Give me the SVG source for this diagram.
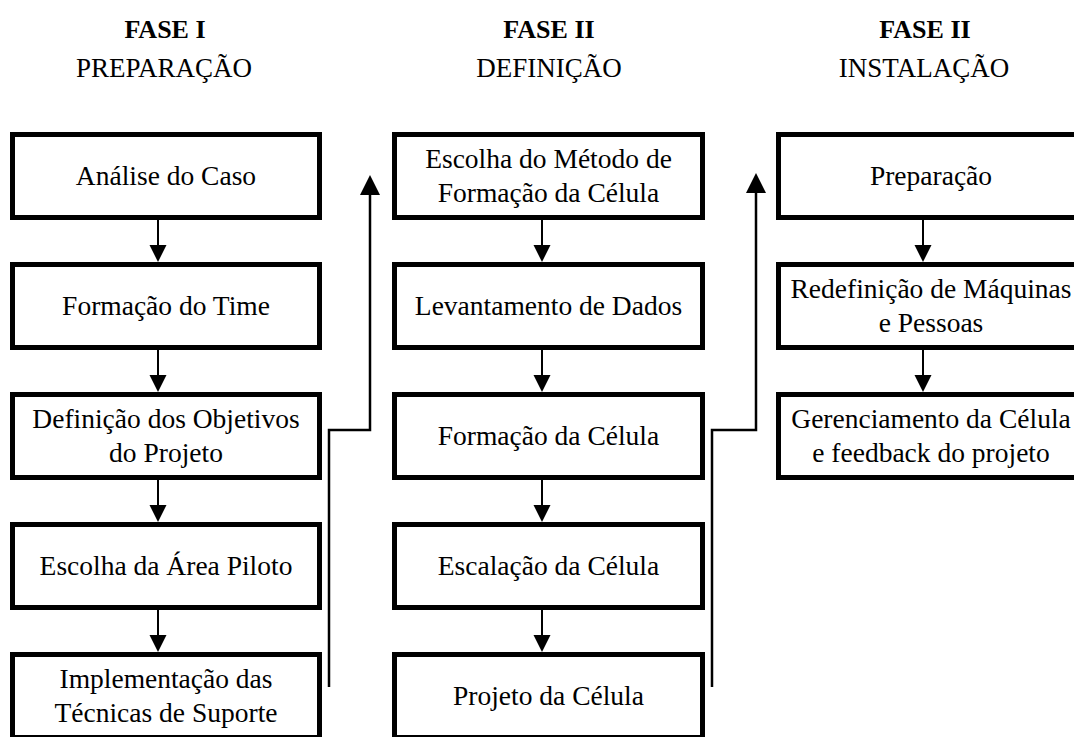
<svg xmlns="http://www.w3.org/2000/svg" width="1074" height="737" viewBox="0 0 1074 737">
<style>
.box{fill:#fff;stroke:#000;stroke-width:5}
.t{font-size:27.5px;fill:#000;text-anchor:middle}
.h{font-size:27px;fill:#000;text-anchor:middle}
.hb{font-weight:bold;font-size:26px}
.ln{fill:none;stroke:#000;stroke-width:2}
.up{fill:none;stroke:#000;stroke-width:2.5}
.ah{fill:#000}
</style>
<rect width="1074" height="737" fill="#fff"/>
<g font-family="Liberation Serif, Times New Roman, DejaVu Serif, serif">
<g id="headers">
<text class="h hb" x="165" y="38">FASE I</text>
<text class="h" x="164" y="77">PREPARAÇÃO</text>
<text class="h hb" x="549" y="38">FASE II</text>
<text class="h" x="549" y="77">DEFINIÇÃO</text>
<text class="h hb" x="925" y="38">FASE II</text>
<text class="h" x="924" y="77">INSTALAÇÃO</text>
</g>
<g id="connectors">
<line class="ln" x1="158" y1="220" x2="158" y2="246"/><polygon class="ah" points="149.5,245 166.5,245 158,262"/>
<line class="ln" x1="158" y1="350" x2="158" y2="376"/><polygon class="ah" points="149.5,375 166.5,375 158,392"/>
<line class="ln" x1="158" y1="480" x2="158" y2="506"/><polygon class="ah" points="149.5,505 166.5,505 158,522"/>
<line class="ln" x1="158" y1="610" x2="158" y2="636"/><polygon class="ah" points="149.5,635 166.5,635 158,652"/>
<line class="ln" x1="542" y1="220" x2="542" y2="246"/><polygon class="ah" points="533.5,245 550.5,245 542,262"/>
<line class="ln" x1="542" y1="350" x2="542" y2="376"/><polygon class="ah" points="533.5,375 550.5,375 542,392"/>
<line class="ln" x1="542" y1="480" x2="542" y2="506"/><polygon class="ah" points="533.5,505 550.5,505 542,522"/>
<line class="ln" x1="542" y1="610" x2="542" y2="636"/><polygon class="ah" points="533.5,635 550.5,635 542,652"/>
<line class="ln" x1="923" y1="220" x2="923" y2="246"/><polygon class="ah" points="914.5,245 931.5,245 923,262"/>
<line class="ln" x1="923" y1="350" x2="923" y2="376"/><polygon class="ah" points="914.5,375 931.5,375 923,392"/>
<path class="up" d="M329,687 V430 H370 V194"/><polygon class="ah" points="360,195 380,195 370,175"/>
<path class="up" d="M712,687 V430 H756 V192"/><polygon class="ah" points="746,193 766,193 756,173"/>
</g>
<g id="n1"><rect class="box" x="12.5" y="134.5" width="307" height="83"/><text class="t" x="166" y="185">Análise do Caso</text></g>
<g id="n2"><rect class="box" x="12.5" y="264.5" width="307" height="83"/><text class="t" x="166" y="315">Formação do Time</text></g>
<g id="n3"><rect class="box" x="12.5" y="394.5" width="307" height="83"/><text class="t" x="166" y="428">Definição dos Objetivos</text><text class="t" x="166" y="462">do Projeto</text></g>
<g id="n4"><rect class="box" x="12.5" y="524.5" width="307" height="83"/><text class="t" x="166" y="575">Escolha da Área Piloto</text></g>
<g id="n5"><rect class="box" x="12.5" y="654.5" width="307" height="83"/><text class="t" x="166" y="688">Implementação das</text><text class="t" x="166" y="722">Técnicas de Suporte</text></g>
<g id="n6"><rect class="box" x="394.5" y="134.5" width="308" height="83"/><text class="t" x="548.5" y="168">Escolha do Método de</text><text class="t" x="548.5" y="202">Formação da Célula</text></g>
<g id="n7"><rect class="box" x="394.5" y="264.5" width="308" height="83"/><text class="t" x="548.5" y="315">Levantamento de Dados</text></g>
<g id="n8"><rect class="box" x="394.5" y="394.5" width="308" height="83"/><text class="t" x="548.5" y="445">Formação da Célula</text></g>
<g id="n9"><rect class="box" x="394.5" y="524.5" width="308" height="83"/><text class="t" x="548.5" y="575">Escalação da Célula</text></g>
<g id="n10"><rect class="box" x="394.5" y="654.5" width="308" height="83"/><text class="t" x="548.5" y="705">Projeto da Célula</text></g>
<g id="n11"><rect class="box" x="778.5" y="134.5" width="312" height="83"/><text class="t" x="931" y="185">Preparação</text></g>
<g id="n12"><rect class="box" x="778.5" y="264.5" width="312" height="83"/><text class="t" x="931" y="298">Redefinição de Máquinas</text><text class="t" x="931" y="332">e Pessoas</text></g>
<g id="n13"><rect class="box" x="778.5" y="394.5" width="312" height="83"/><text class="t" x="931" y="428">Gerenciamento da Célula</text><text class="t" x="931" y="462">e feedback do projeto</text></g>
</g>
</svg>
